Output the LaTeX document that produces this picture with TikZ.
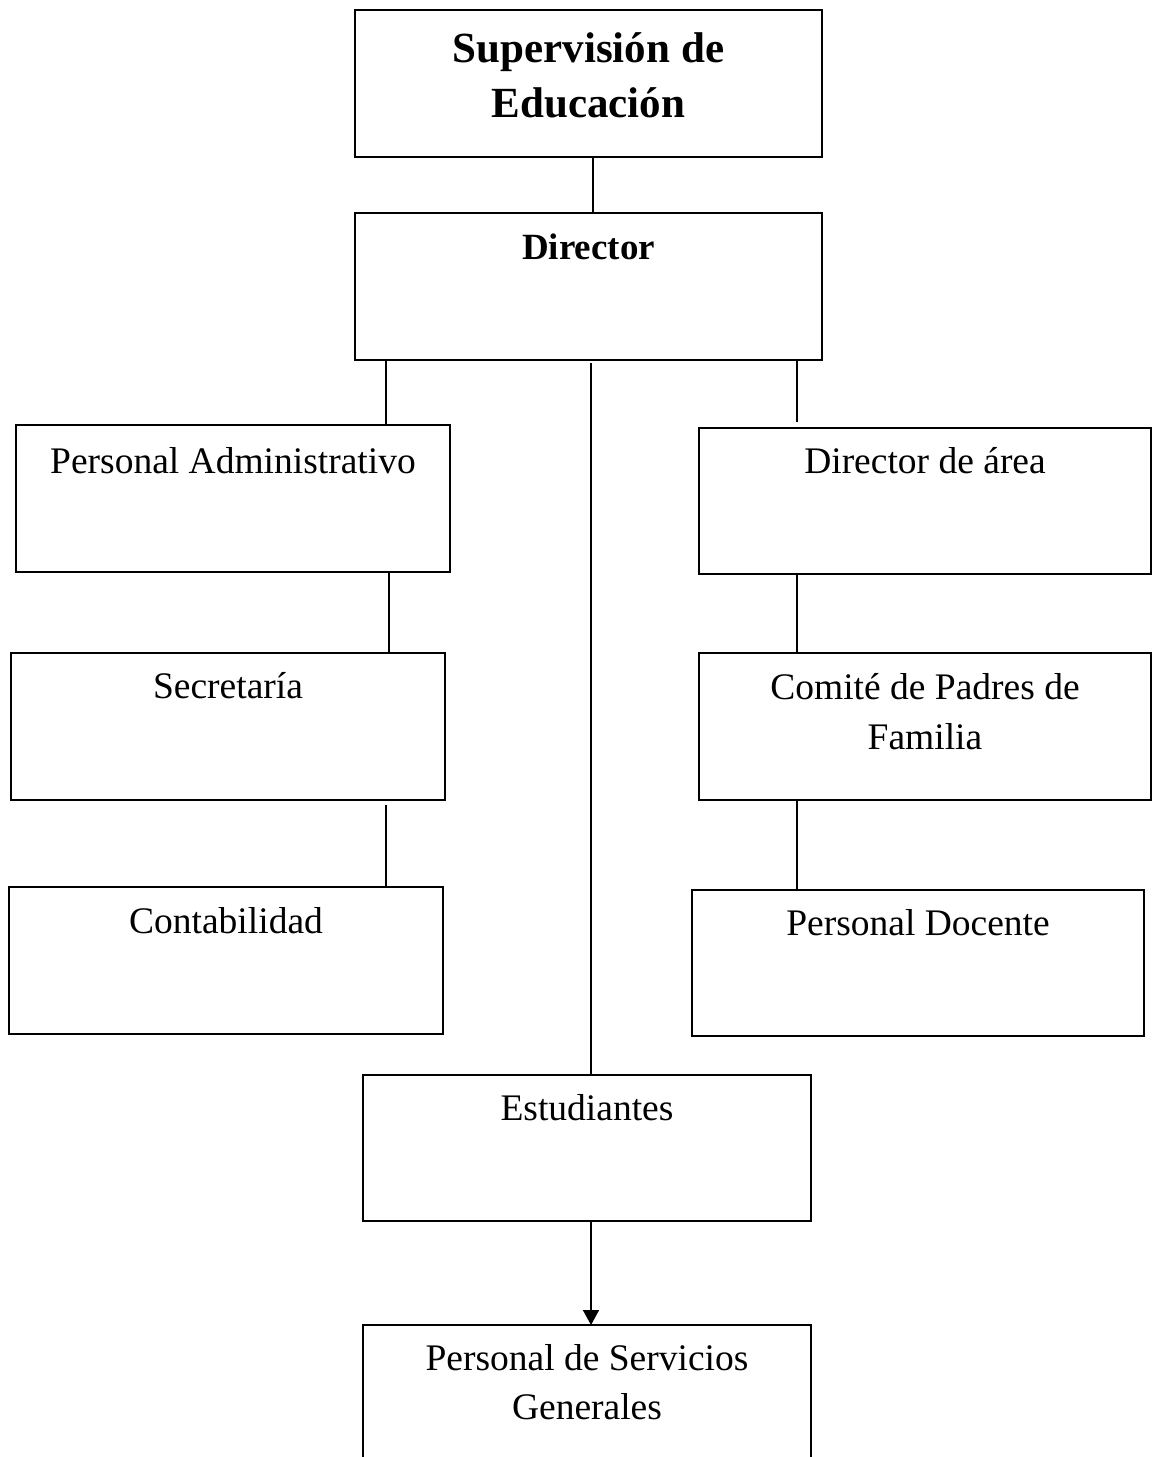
\documentclass[tikz,border=0pt]{standalone}
\usepackage{fontspec}
\setmainfont{Liberation Serif}
\usetikzlibrary{arrows.meta}
\begin{document}
\begin{tikzpicture}[x=1pt,y=-1pt,
  orgbox/.style={draw, line width=1.8pt, rectangle, outer sep=0pt, inner sep=0pt},
  lbl/.style={anchor=base, inner sep=0pt, align=center, font=\fontsize{37.5}{50}\selectfont},
  blbl/.style={anchor=base, inner sep=0pt, align=center, font=\fontsize{37}{50}\selectfont\bfseries},
  tlbl/.style={anchor=base, inner sep=0pt, align=center, font=\fontsize{43}{55}\selectfont\bfseries},
  conn/.style={line width=1.8pt}]
\useasboundingbox (0,0) rectangle (1155,1457);
\clip (0,0) rectangle (1155,1457);
\fill[white] (0,0) rectangle (1155,1457);

% boxes
\node[orgbox, minimum width=467pt, minimum height=147pt] (sup) at (588.5,83.5) {};
\node[orgbox, minimum width=467pt, minimum height=147pt] (dir) at (588.5,286.5) {};
\node[orgbox, minimum width=434pt, minimum height=147pt] (padm) at (233,498.5) {};
\node[orgbox, minimum width=452pt, minimum height=146pt] (darea) at (925,501) {};
\node[orgbox, minimum width=434pt, minimum height=147pt] (sec) at (228,726.5) {};
\node[orgbox, minimum width=452pt, minimum height=147pt] (com) at (925,726.5) {};
\node[orgbox, minimum width=434pt, minimum height=147pt] (cont) at (226,960.5) {};
\node[orgbox, minimum width=452pt, minimum height=146pt] (doc) at (918,963) {};
\node[orgbox, minimum width=448pt, minimum height=146pt] (est) at (587,1148) {};
\node[orgbox, minimum width=448pt, minimum height=147pt] (serv) at (587,1398.5) {};

% labels
\node[tlbl] (tsup1) at (588.5,62) {Supervisión de};
\node[tlbl] (tsup2) at (588.5,117) {Educación};
\node[blbl] (tdir) at (588.5,259) {Director};
\node[lbl] (tpadm) at (233,473) {Personal Administrativo};
\node[lbl] (tdarea) at (925,473) {Director de área};
\node[lbl] (tsec) at (228,698) {Secretaría};
\node[lbl] (tcom1) at (925,699) {Comité de Padres de};
\node[lbl] (tcom2) at (925,749) {Familia};
\node[lbl] (tcont) at (226,933) {Contabilidad};
\node[lbl] (tdoc) at (918,935) {Personal Docente};
\node[lbl] (test) at (587,1120) {Estudiantes};
\node[lbl] (tserv1) at (587,1370) {Personal de Servicios};
\node[lbl] (tserv2) at (587,1419) {Generales};

% x positions of connectors
\coordinate (xs) at (593,0);
\coordinate (xa) at (386,0);
\coordinate (xm) at (591,0);
\coordinate (xr) at (797,0);
\coordinate (xb) at (389,0);
\coordinate (xc) at (386,0);

% connectors
\draw[conn] (xs |- sup.south) -- (xs |- dir.north);
\draw[conn] (xa |- dir.south) -- (xa |- padm.north);
\draw[conn, shorten <=3pt] (xm |- dir.south) -- (xm |- est.north);
\draw[conn, shorten >=6pt] (xr |- dir.south) -- (xr |- darea.north);
\draw[conn] (xb |- padm.south) -- (xb |- sec.north);
\draw[conn, shorten <=5pt] (xc |- sec.south) -- (xc |- cont.north);
\draw[conn] (xr |- darea.south) -- (xr |- com.north);
\draw[conn] (xr |- com.south) -- (xr |- doc.north);
\draw[conn, -{Triangle[length=15pt,width=16pt]}] (xm |- est.south) -- (xm |- serv.north);
\end{tikzpicture}
\end{document}
